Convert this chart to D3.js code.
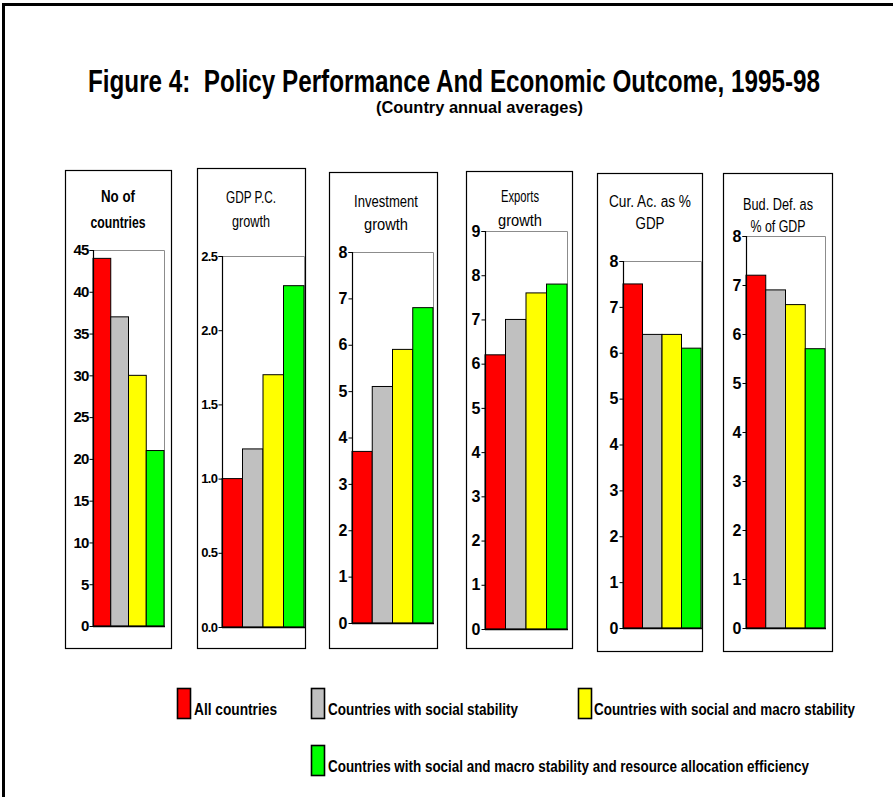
<!DOCTYPE html>
<html>
<head>
<meta charset="utf-8">
<script src="https://cdn.jsdelivr.net/npm/d3@7"></script>
<style>
  html, body { margin: 0; padding: 0; background: #fff; }
  svg { display: block; font-family: "Liberation Sans", Arial, sans-serif; }
</style>
</head>
<body>
<svg id="chart" width="893" height="797"></svg>
<script>
// ---- data ----
const seriesNames = [
  "All countries",
  "Countries with social stability",
  "Countries with social and macro stability",
  "Countries with social and macro stability and resource allocation efficiency"
];
const seriesColors = ["#ff0000", "#c0c0c0", "#ffff00", "#00ff00"];

const panelTitles = [
  ["No of", "countries"],
  ["GDP P.C.", "growth"],
  ["Investment", "growth"],
  ["Exports", "growth"],
  ["Cur. Ac. as %", "GDP"],
  ["Bud. Def. as", "% of GDP"]
];

const noOfCountries    = [44, 37, 30, 21];
const gdpPcGrowth      = [1.0, 1.2, 1.7, 2.3];
const investmentGrowth = [3.7, 5.1, 5.9, 6.8];
const exportsGrowth    = [6.2, 7.0, 7.6, 7.8];
const curAccPctGdp     = [7.5, 6.4, 6.4, 6.1];
const budDefPctGdp     = [7.2, 6.9, 6.6, 5.7];

const panelValues = [noOfCountries, gdpPcGrowth, investmentGrowth, exportsGrowth, curAccPctGdp, budDefPctGdp];

// axis tick labels per panel
const tickLabels = [
  ["0", "5", "10", "15", "20", "25", "30", "35", "40", "45"],
  ["0.0", "0.5", "1.0", "1.5", "2.0", "2.5"],
  ["0", "1", "2", "3", "4", "5", "6", "7", "8"],
  ["0", "1", "2", "3", "4", "5", "6", "7", "8", "9"],
  ["0", "1", "2", "3", "4", "5", "6", "7", "8"],
  ["0", "1", "2", "3", "4", "5", "6", "7", "8"]
];

const titleText = "Figure 4:  Policy Performance And Economic Outcome, 1995-98";
const subtitleText = "(Country annual averages)";

// ---- layout ----
// box: panel frame; plot: [left, right, top, bottom] of the bar area
const layout = [
  { box: [65, 170, 171, 648], plot: [93, 164, 250, 626], title: [118, 202, 228], tw: [34, 55], bold: true,  tickSize: 15, tickLs: -0.8 },
  { box: [197, 168, 305, 648], plot: [222, 304, 256, 627], title: [251, 203, 227], tw: [50, 38], bold: false, tickSize: 13, tickLs: -0.6 },
  { box: [329, 172, 437, 648], plot: [352, 433, 252, 623], title: [386, 207, 230], tw: [64, 44], bold: false, tickSize: 16, tickLs: 0 },
  { box: [466, 171, 572, 648], plot: [485, 567, 231, 629], title: [520, 202, 226], tw: [38, 44], bold: false, tickSize: 16, tickLs: 0 },
  { box: [597, 173, 702, 651], plot: [623, 701, 261, 628], title: [650, 207, 229], tw: [82, 29], bold: false, tickSize: 16, tickLs: 0 },
  { box: [723, 173, 832, 651], plot: [746, 825, 236, 628], title: [778, 210, 232], tw: [70, 55], bold: false, tickSize: 16, tickLs: 0 }
];

const svg = d3.select("#chart");

// outer frame (top and left edges)
svg.append("path")
  .attr("d", "M3.5,797 V4.5 H893")
  .attr("fill", "none")
  .attr("stroke", "#000")
  .attr("stroke-width", 3);

// main title
svg.append("text")
  .attr("x", 88).attr("y", 92)
  .attr("textLength", 732).attr("lengthAdjust", "spacingAndGlyphs")
  .attr("font-size", 31).attr("font-weight", "bold")
  .style("white-space", "pre")
  .text(titleText);

svg.append("text")
  .attr("x", 376).attr("y", 113)
  .attr("textLength", 207).attr("lengthAdjust", "spacingAndGlyphs")
  .attr("font-size", 17).attr("font-weight", "bold")
  .text(subtitleText);

// ---- panels ----
panelValues.forEach((vals, i) => {
  const L = layout[i];
  const [bx0, by0, bx1, by1] = L.box;
  const [px0, px1, py0, py1] = L.plot;
  const g = svg.append("g");

  g.append("rect")
    .attr("x", bx0 + 0.5).attr("y", by0 + 0.5)
    .attr("width", bx1 - bx0).attr("height", by1 - by0)
    .attr("fill", "#fff").attr("stroke", "#000").attr("stroke-width", 1.2);

  // panel heading (two lines)
  panelTitles[i].forEach((line, k) => {
    g.append("text")
      .attr("x", L.title[0]).attr("y", L.title[1 + k])
      .attr("text-anchor", "middle")
      .attr("font-size", 16)
      .attr("font-weight", L.bold ? "bold" : "normal")
      .attr("textLength", L.tw[k]).attr("lengthAdjust", "spacingAndGlyphs")
      .text(line);
  });

  const ticks = tickLabels[i].map(Number);
  const yMax = d3.max(ticks);
  const y = d3.scaleLinear().domain([0, yMax]).range([py1, py0]);
  const x = d3.scaleBand().domain(d3.range(vals.length)).range([px0, px1]).paddingInner(0).paddingOuter(0);

  // plot area outline: grey top/right
  g.append("path")
    .attr("d", `M${px0},${py0 + 0.5} H${px1 + 0.5} V${py1}`)
    .attr("fill", "none").attr("stroke", "#8c8c8c").attr("stroke-width", 1);

  // bars
  g.selectAll("rect.bar")
    .data(vals)
    .join("rect")
    .attr("class", "bar")
    .attr("x", (d, j) => x(j))
    .attr("y", d => y(d))
    .attr("width", x.bandwidth())
    .attr("height", d => y(0) - y(d))
    .attr("fill", (d, j) => seriesColors[j])
    .attr("stroke", "#000").attr("stroke-width", 1);

  // baseline
  g.append("line")
    .attr("x1", px0).attr("x2", px1 + 1)
    .attr("y1", py1 + 0.5).attr("y2", py1 + 0.5)
    .attr("stroke", "#000").attr("stroke-width", 1.5);

  // y axis
  const axis = d3.axisLeft(y)
    .tickValues(ticks)
    .tickSize(4)
    .tickPadding(1)
    .tickFormat((d, k) => tickLabels[i][k]);
  const ag = g.append("g")
    .attr("transform", `translate(${px0 + 0.5},0)`)
    .call(axis);
  ag.attr("font-size", L.tickSize).attr("font-family", "'Liberation Sans', Arial, sans-serif");
  ag.select(".domain").attr("stroke", "#000").attr("stroke-width", 1.2)
    .attr("d", `M-4,${py0 + 0.5}H0V${py1 + 0.5}`);
  ag.selectAll(".tick line").attr("stroke", "#000");
  ag.selectAll(".tick text")
    .style("font-size", L.tickSize + "px")
    .style("font-weight", "bold")
    .style("letter-spacing", L.tickLs + "px")
    .attr("fill", "#000");
});

// ---- legend ----
const legendPos = [
  { sx: 177, sy: 688, tx: 194, ty: 715, tw: 83 },
  { sx: 311, sy: 688, tx: 328, ty: 715, tw: 190 },
  { sx: 578, sy: 688, tx: 594, ty: 715, tw: 261 },
  { sx: 311, sy: 745, tx: 328, ty: 772, tw: 481 }
];

const lg = svg.append("g");
seriesNames.forEach((name, i) => {
  const p = legendPos[i];
  lg.append("rect")
    .attr("x", p.sx + 0.5).attr("y", p.sy + 0.5)
    .attr("width", 13).attr("height", 30)
    .attr("fill", seriesColors[i])
    .attr("stroke", "#000").attr("stroke-width", 1.6);
  lg.append("text")
    .attr("x", p.tx).attr("y", p.ty)
    .attr("font-size", 16).attr("font-weight", "bold")
    .attr("textLength", p.tw).attr("lengthAdjust", "spacingAndGlyphs")
    .text(name);
});
</script>
</body>
</html>
